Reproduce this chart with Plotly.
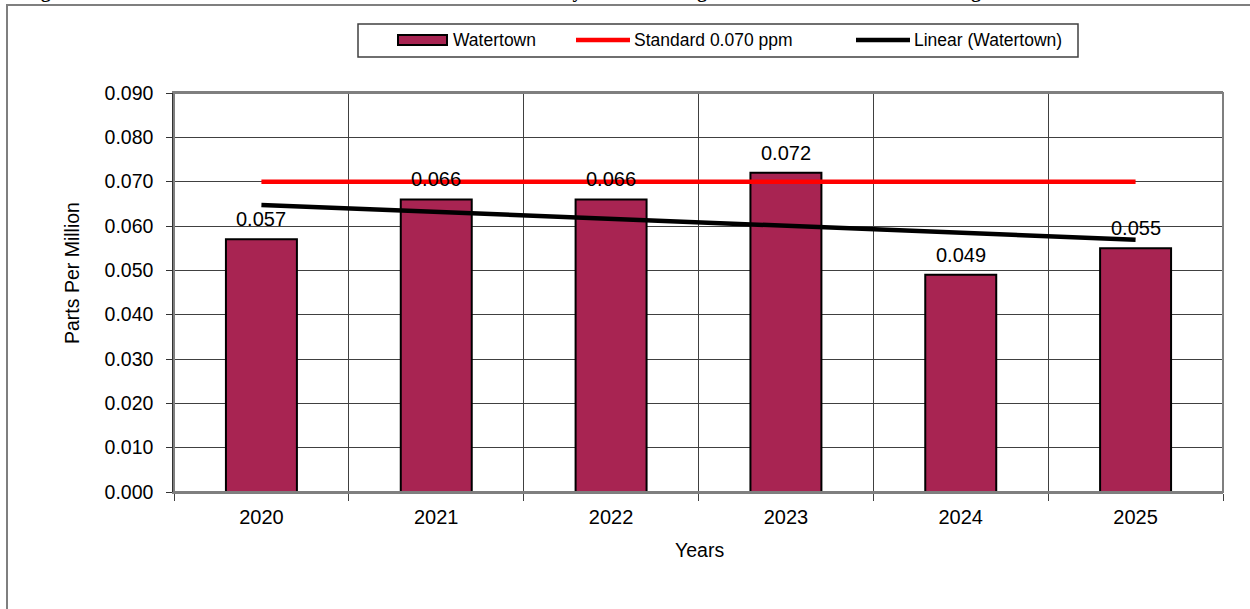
import numpy as np
import plotly.graph_objects as go

# Annual ozone values for the Watertown site
years = ["2020", "2021", "2022", "2023", "2024", "2025"]
watertown = [0.057, 0.066, 0.066, 0.072, 0.049, 0.055]
standard = [0.070, 0.070, 0.070, 0.070, 0.070, 0.070]
y_ticks = [0.000, 0.010, 0.020, 0.030, 0.040, 0.050, 0.060, 0.070, 0.080, 0.090]

# Least-squares trend line through the Watertown values
idx = np.arange(len(watertown))
slope, intercept = np.polyfit(idx, watertown, 1)
trend = list(intercept + slope * idx)

W, H = 1250, 609
L, R, T, B = 174, 1223, 93, 492  # plot area in pixels


def px_x(px):
    return (px - L) / (R - L)


def px_y(py):
    return (B - py) / (B - T)


BAR_COLOR = "#A82452"
FONT = "Liberation Sans, Arial, sans-serif"

fig = go.Figure()

fig.add_trace(go.Bar(
    x=years, y=watertown, name="Watertown",
    marker=dict(color=BAR_COLOR, line=dict(color="black", width=2)),
    showlegend=False, hoverinfo="x+y",
))
fig.add_trace(go.Scatter(
    x=years, y=standard, name="Standard 0.070 ppm", mode="lines",
    line=dict(color="#FF0000", width=4.5), showlegend=False,
))
fig.add_trace(go.Scatter(
    x=years, y=trend, name="Linear (Watertown)", mode="lines",
    line=dict(color="black", width=4.5), showlegend=False,
))

annotations = []
# value labels above each bar (category index positions)
for i, v in enumerate(watertown):
    annotations.append(dict(
        x=i, y=v, xref="x", yref="y", text=f"{v:.3f}", showarrow=False,
        xanchor="center", yanchor="bottom", yshift=7,
        font=dict(size=20, color="black", family=FONT),
    ))

# axis titles
annotations.append(dict(
    x=px_x(72), y=px_y(273), xref="paper", yref="paper", text="Parts Per Million",
    xanchor="center", yanchor="middle",
    textangle=-90, showarrow=False, font=dict(size=19.5, color="black", family=FONT),
))
annotations.append(dict(
    x=px_x(699), y=px_y(550), xref="paper", yref="paper", text="Years",
    xanchor="center", yanchor="middle",
    showarrow=False, font=dict(size=19.5, color="black", family=FONT),
))

# figure caption running along the top edge
annotations.append(dict(
    x=px_x(22), y=px_y(4), xref="paper", yref="paper", xanchor="left", yanchor="bottom",
    text="<b>Figure 5-10: Watertown Ozone Site – Three-Year Trend of the Yearly 8-Hour "
         "Average Ozone Concentrations – 4th Highest Values</b>",
    showarrow=False, font=dict(size=19, color="black", family="Liberation Serif, Times New Roman, serif"),
))

# legend entries
leg_y = 40
legend_items = [("Watertown", 451), ("Standard 0.070 ppm", 632), ("Linear (Watertown)", 912)]
for label, tx in legend_items:
    annotations.append(dict(
        x=px_x(tx), y=px_y(leg_y), xref="paper", yref="paper", xanchor="left", yanchor="middle",
        text=label, showarrow=False, font=dict(size=17.5, color="black", family=FONT),
    ))

shapes = [
    # outer chart frame
    dict(type="rect", xref="paper", yref="paper", x0=px_x(7), x1=px_x(1262),
         y0=px_y(5), y1=px_y(630), line=dict(color="#7F7F7F", width=2), layer="below"),
    # legend box
    dict(type="rect", xref="paper", yref="paper", x0=px_x(358), x1=px_x(1078),
         y0=px_y(24), y1=px_y(57), line=dict(color="#404040", width=1.5), fillcolor="white"),
    # legend swatches
    dict(type="rect", xref="paper", yref="paper", x0=px_x(398), x1=px_x(447),
         y0=px_y(35), y1=px_y(45), line=dict(color="black", width=2), fillcolor=BAR_COLOR),
    dict(type="line", xref="paper", yref="paper", x0=px_x(576), x1=px_x(630),
         y0=px_y(leg_y), y1=px_y(leg_y), line=dict(color="#FF0000", width=4.5)),
    dict(type="line", xref="paper", yref="paper", x0=px_x(856), x1=px_x(910),
         y0=px_y(leg_y), y1=px_y(leg_y), line=dict(color="black", width=4.5)),
    # gray border along the plot area
    dict(type="rect", xref="paper", yref="paper", x0=0, x1=1, y0=0, y1=1,
         line=dict(color="#7F7F7F", width=2), layer="above"),
]

fig.update_layout(
    width=W, height=H, autosize=False,
    margin=dict(l=L, r=W - R, t=T, b=H - B, pad=0),
    paper_bgcolor="white", plot_bgcolor="white",
    bargap=0.594,
    font=dict(family=FONT, color="black", size=19),
    annotations=annotations, shapes=shapes,
    showlegend=False,
)

fig.update_xaxes(
    type="category", range=[-0.5, len(years) - 0.5], tickson="boundaries",
    categoryorder="array", categoryarray=years,
    showgrid=True, gridcolor="#404040", gridwidth=1,
    showline=True, linecolor="#7F7F7F", linewidth=2, mirror=True,
    ticks="outside", ticklen=7, tickcolor="#404040", tickangle=0,
    tickfont=dict(size=20, color="black", family=FONT),
    ticklabelstandoff=6,
)
fig.update_yaxes(
    range=[0, 0.09], tickvals=y_ticks, tickformat=".3f",
    showgrid=True, gridcolor="#404040", gridwidth=1,
    showline=True, linecolor="#333333", linewidth=1.5, mirror=False,
    ticks="outside", ticklen=6, tickcolor="#333333",
    tickfont=dict(size=19.5, color="black", family=FONT),
    ticklabelstandoff=9, zeroline=False,
)

fig.write_html("out.html")
